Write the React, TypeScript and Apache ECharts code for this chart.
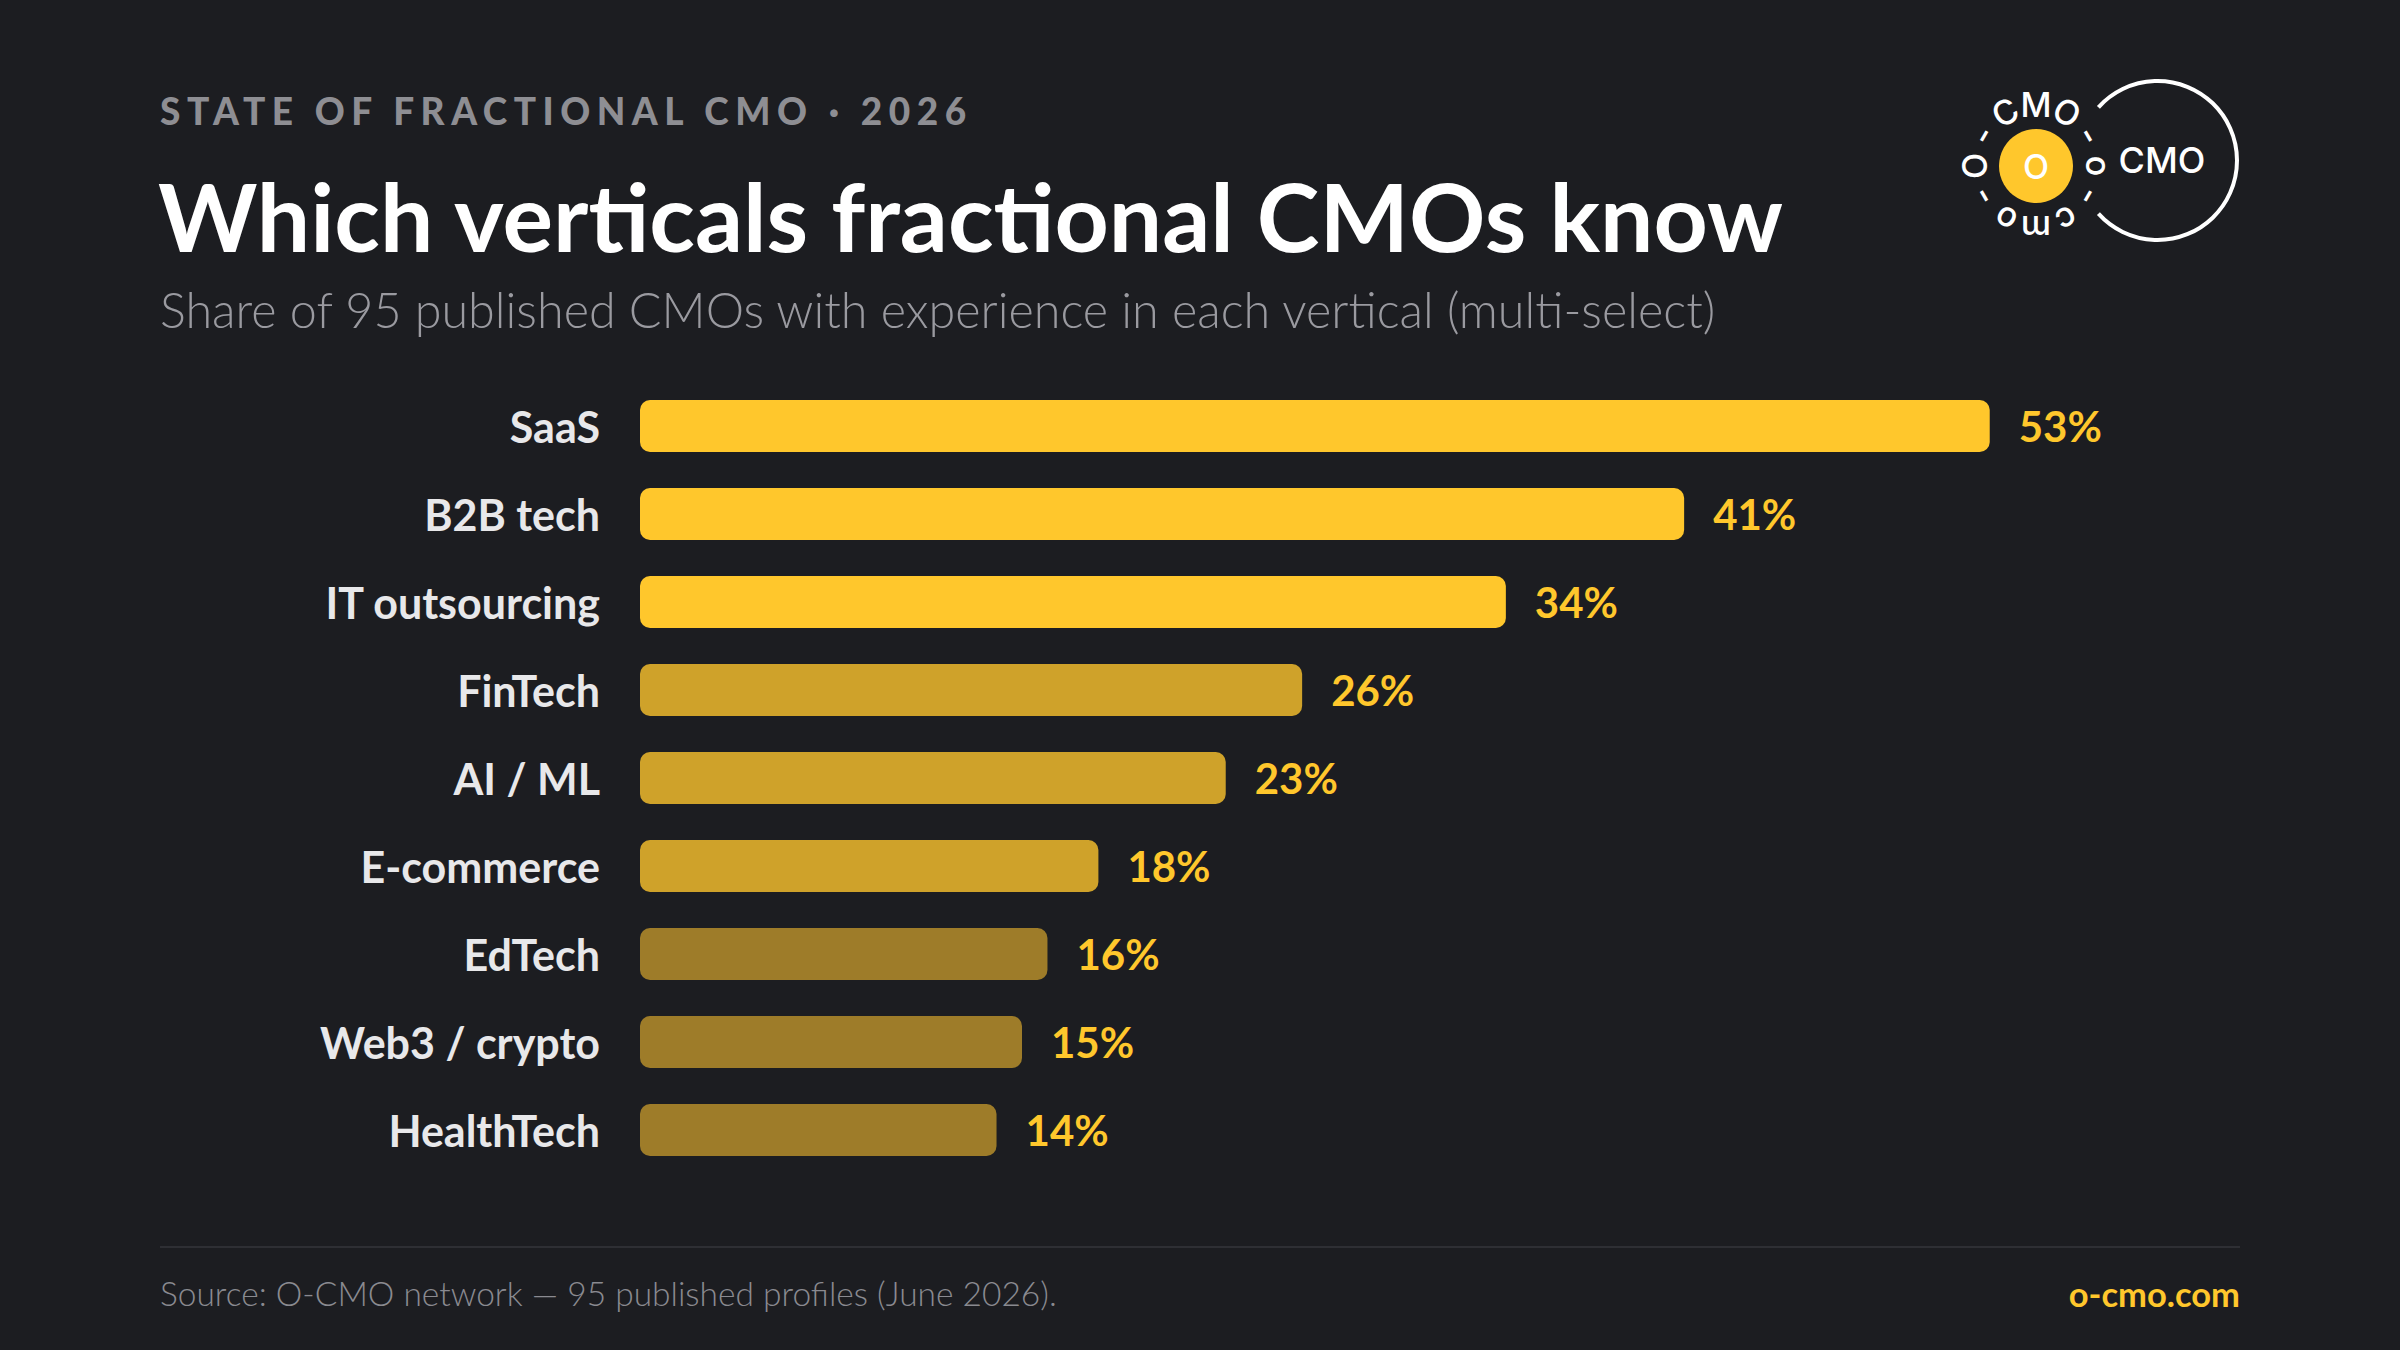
import React, { useEffect, useRef } from "react";
import * as echarts from "echarts";

const categories = [
  "SaaS",
  "B2B tech",
  "IT outsourcing",
  "FinTech",
  "AI / ML",
  "E-commerce",
  "EdTech",
  "Web3 / crypto",
  "HealthTech",
];
const values = [53, 41, 34, 26, 23, 18, 16, 15, 14];
const barColors = [
  "#FFC72C", "#FFC72C", "#FFC72C",
  "#CFA22A", "#CFA22A", "#CFA22A",
  "#9E7C29", "#9E7C29", "#9E7C29",
];
const ringLetters = ["O", "-", "C", "M", "O", "-", "o", "-", "c", "m", "o", "-"];

const eyebrow = "STATE OF FRACTIONAL CMO · 2026";
const title = "Which verticals fractional CMOs know";
const subtitle = "Share of 95 published CMOs with experience in each vertical (multi-select)";
const source = "Source: O-CMO network — 95 published profiles (June 2026).";
const site = "o-cmo.com";

const FONT = "Lato, 'Noto Sans', 'DejaVu Sans', sans-serif";
const LOGO_FONT = "Inter, 'Noto Sans', sans-serif";
const BG = "#1C1D21";
const YELLOW = "#FFC72C";

export default function App() {
  const ref = useRef<HTMLDivElement>(null);

  useEffect(() => {
    if (!ref.current) return;
    const chart = echarts.init(ref.current, null, { renderer: "svg" });

    const ringCx = 2036;
    const ringCy = 166;
    const ringR = 62;
    const ringEls = ringLetters.map((ch, i) => {
      const deg = 180 + i * 30;
      const rad = (deg * Math.PI) / 180;
      return {
        type: "text",
        x: ringCx + ringR * Math.cos(rad),
        y: ringCy + ringR * Math.sin(rad),
        rotation: (-(deg + 90) * Math.PI) / 180,
        style: {
          text: ch,
          x: 0,
          y: 0,
          align: "center",
          verticalAlign: "middle",
          fill: "#FFFFFF",
          font: `500 34px ${LOGO_FONT}`,
        },
      };
    });

    const option: any = {
      animation: false,
      backgroundColor: BG,
      grid: { left: 640, top: 382, bottom: 176, right: 232, containLabel: false },
      xAxis: { type: "value", min: 0, max: 60, show: false },
      yAxis: {
        type: "category",
        data: categories,
        inverse: true,
        axisLine: { show: false },
        axisTick: { show: false },
        splitLine: { show: false },
        axisLabel: {
          margin: 40,
          color: "#E8E8EA",
          fontSize: 43,
          fontWeight: "bold",
          fontFamily: FONT,
        },
      },
      series: [
        {
          type: "bar",
          barWidth: 52,
          data: values.map((v, i) => ({
            value: v,
            itemStyle: { color: barColors[i], borderRadius: 10 },
          })),
          label: {
            show: true,
            position: "right",
            distance: 29,
            formatter: "{c}%",
            color: YELLOW,
            fontSize: 42,
            fontWeight: "bold",
            fontFamily: FONT,
          },
        },
      ],
      graphic: [
        {
          type: "text",
          x: 160,
          y: 110,
          style: {
            text: eyebrow,
            align: "left",
            verticalAlign: "middle",
            fill: "#8E8E93",
            font: `900 37px ${FONT}`,
          },
        },
        {
          type: "text",
          x: 158,
          y: 215,
          style: {
            text: title,
            align: "left",
            verticalAlign: "middle",
            fill: "#FFFFFF",
            font: `bold 94.7px ${FONT}`,
          },
        },
        {
          type: "text",
          x: 160,
          y: 309,
          style: {
            text: subtitle,
            align: "left",
            verticalAlign: "middle",
            fill: "#9A9AA0",
            font: `300 48.5px ${FONT}`,
          },
        },
        {
          type: "line",
          shape: { x1: 160, y1: 1247, x2: 2240, y2: 1247 },
          style: { stroke: "#2E2F34", lineWidth: 2 },
        },
        {
          type: "text",
          x: 160,
          y: 1293,
          style: {
            text: source,
            align: "left",
            verticalAlign: "middle",
            fill: "#8A8A90",
            font: `300 33.5px ${FONT}`,
          },
        },
        {
          type: "text",
          x: 2240,
          y: 1293,
          style: {
            text: site,
            align: "right",
            verticalAlign: "middle",
            fill: YELLOW,
            font: `bold 34.5px ${FONT}`,
          },
        },
        {
          type: "arc",
          shape: {
            cx: 2157.5,
            cy: 160.5,
            r: 79.5,
            startAngle: (-138 * Math.PI) / 180,
            endAngle: (138 * Math.PI) / 180,
            clockwise: true,
          },
          style: { stroke: "#FFFFFF", lineWidth: 4, fill: "none" },
        },
        {
          type: "text",
          x: 2162,
          y: 160,
          style: {
            text: "CMO",
            align: "center",
            verticalAlign: "middle",
            fill: "#FFFFFF",
            font: `500 36px ${LOGO_FONT}`,
          },
        },
        {
          type: "circle",
          shape: { cx: ringCx, cy: ringCy, r: 37 },
          style: { fill: YELLOW },
        },
        {
          type: "text",
          x: ringCx,
          y: ringCy,
          style: {
            text: "O",
            align: "center",
            verticalAlign: "middle",
            fill: "#FFFFFF",
            font: `500 34px ${LOGO_FONT}`,
          },
        },
        ...ringEls,
      ],
    };

    chart.setOption(option);

    const applySpacing = () => {
      const texts = ref.current ? ref.current.querySelectorAll("text") : [];
      (texts as any).forEach((t: any) => {
        if (t.textContent === eyebrow) t.setAttribute("letter-spacing", "6.5");
      });
    };
    applySpacing();
    chart.on("finished", applySpacing);
    const raf = requestAnimationFrame(applySpacing);
    const tm = setTimeout(applySpacing, 50);

    return () => {
      cancelAnimationFrame(raf);
      clearTimeout(tm);
      chart.dispose();
    };
  }, []);

  return (
    <div
      ref={ref}
      style={{ position: "fixed", left: 0, top: 0, width: 2400, height: 1350 }}
    />
  );
}
